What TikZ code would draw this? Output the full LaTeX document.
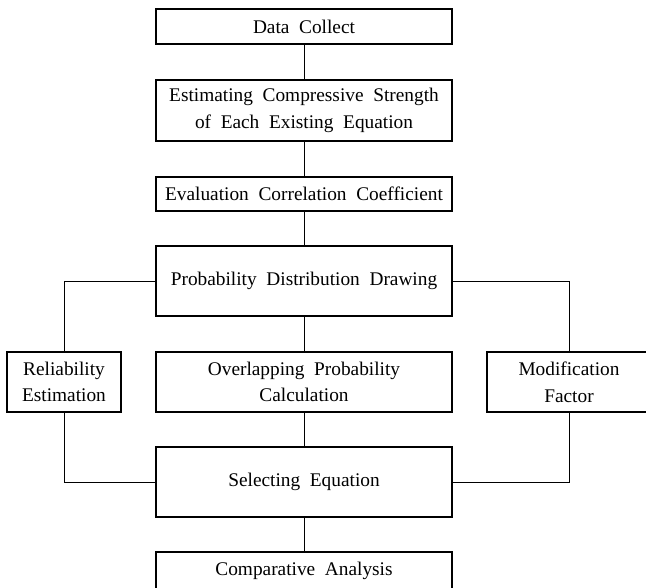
\documentclass[tikz,border=0pt]{standalone}
\usepackage{fontspec}
\setmainfont{Liberation Serif}[WordSpace=2]

\begin{document}
\begin{tikzpicture}[x=0.75pt,y=-0.75pt,
  box/.style={draw,line width=0.8pt,minimum width=222pt,inner sep=0pt,align=center,
    font=\fontsize{14.5}{20}\selectfont},
  link/.style={line width=0.7pt}]

\useasboundingbox (0,0) rectangle (646,588);
\clip (0,0) rectangle (646,588);

% main column
\node[box,minimum height=26.25pt] (data) at (304,26.5) {Data Collect};
\node[box,minimum height=45.75pt] (est) at (304,110.5) {Estimating Compressive Strength\\of Each Existing Equation};
\node[box,minimum height=25.5pt] (eval) at (304,194) {Evaluation Correlation Coefficient};
\node[box,minimum height=52.5pt] (prob) at (304,281) {Probability Distribution Drawing};
\node[box,minimum height=45pt] (over) at (304,382) {Overlapping Probability\\Calculation};
\node[box,minimum height=52.5pt] (select) at (304,482) {Selecting Equation};
\node[box,minimum height=27.75pt] (comp) at (304,570.5) {Comparative Analysis};

% side boxes
\node[box,minimum width=85.5pt,minimum height=45pt] (rel) at (64,382) {Reliability\\Estimation};
\node[box,minimum width=123pt,minimum height=45pt] (mod) at (569,382) {Modification\\Factor};

\draw[link] (data)--(est);
\draw[link] (est)--(eval);
\draw[link] (eval)--(prob);
\draw[link] (prob)--(over);
\draw[link] (over)--(select);
\draw[link] (select)--(comp);

\draw[link] (prob.west) -| (rel.north);
\draw[link] (prob.east) -| (mod.north);
\draw[link] (rel.south) |- (select.west);
\draw[link] (mod.south) |- (select.east);

\end{tikzpicture}
\end{document}
